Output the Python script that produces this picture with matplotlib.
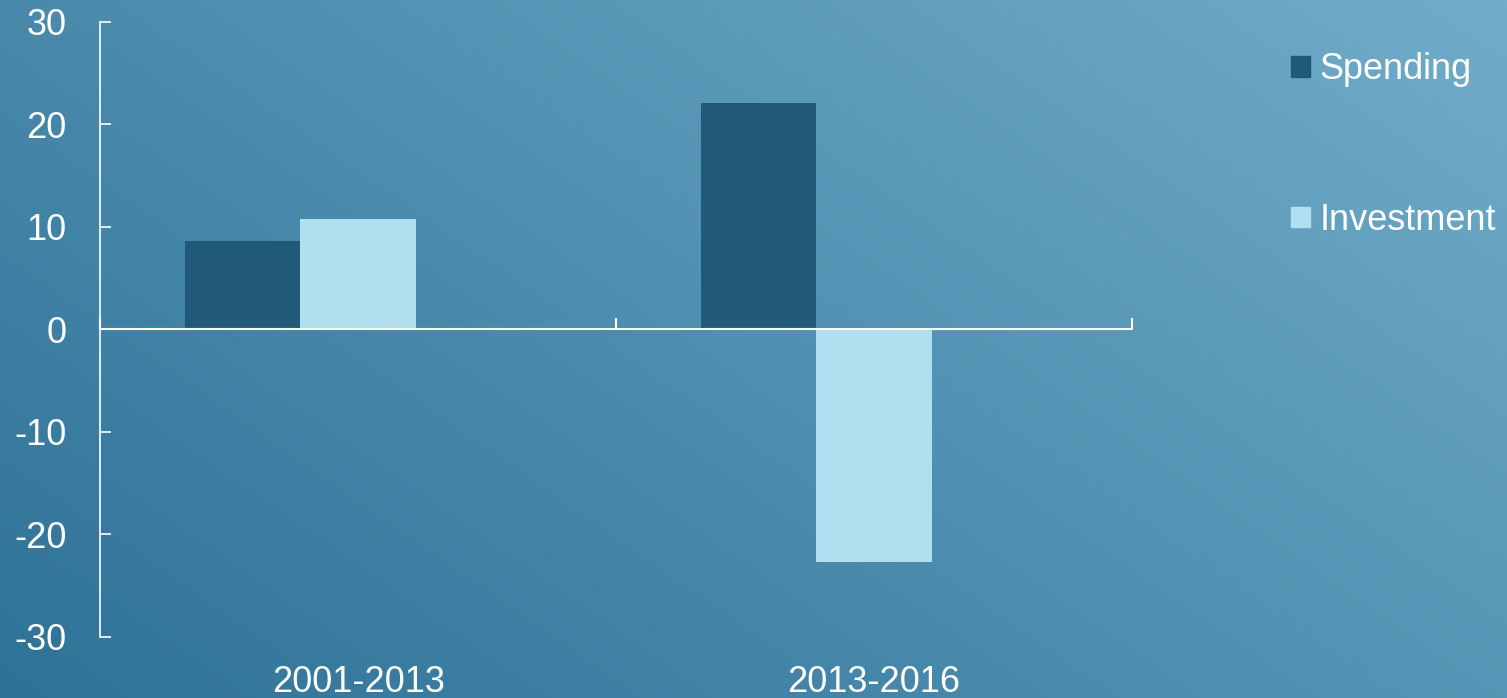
import numpy as np
import matplotlib.pyplot as plt
from matplotlib.patches import Patch

plt.rcParams['font.family'] = ['Liberation Sans', 'DejaVu Sans']

periods = ["2001-2013", "2013-2016"]
spending = [8.6, 22.1]
investment = [10.8, -22.7]
yticks = [-30, -20, -10, 0, 10, 20, 30]

c_spend = "#215a78"
c_invest = "#b0dff0"

fig = plt.figure(figsize=(15.07, 6.98), dpi=100)

# diagonal gradient background
bg = fig.add_axes([0, 0, 1, 1], zorder=0)
gx, gy = np.meshgrid(np.linspace(0, 1, 400), np.linspace(0, 1, 200))
t = (gx * 0.6 + gy * 0.4)
dark = np.array([46, 114, 151]) / 255
light = np.array([113, 173, 201]) / 255
img = dark[None, None, :] * (1 - t[..., None]) + light[None, None, :] * t[..., None]
bg.imshow(img, origin="lower", aspect="auto", extent=[0, 1, 0, 1])
bg.axis("off")

ax = fig.add_axes([0.0664, 0.0874, 0.6848, 0.8811], zorder=1)
ax.patch.set_alpha(0)

n = len(periods)
x = np.arange(n)
gap = 0.165
w = (1 - 2 * gap) / 3  # space for three series, third one empty
ax.bar(x + gap + w * 0.5, spending, w, color=c_spend, zorder=2)
ax.bar(x + gap + w * 1.5, investment, w, color=c_invest, zorder=2)

ax.set_xlim(0, n)
ax.set_ylim(-30, 30)
ax.set_yticks(yticks)
ax.set_yticklabels([str(v) for v in yticks])

for s in ["top", "right"]:
    ax.spines[s].set_visible(False)
ax.spines["left"].set_color("white")
ax.spines["left"].set_linewidth(1.2)
ax.spines["bottom"].set_position(("data", 0))
ax.spines["bottom"].set_color("white")
ax.spines["bottom"].set_linewidth(1.5)
ax.spines["bottom"].set_zorder(3)

ax.set_xticks(np.arange(n + 1))
ax.set_xticklabels([])
ax.tick_params(axis="x", direction="in", length=8, width=1.5, color="white")
ax.tick_params(axis="y", direction="in", length=8, width=1.2, color="white",
               labelsize=26, labelcolor="white", pad=24)

for i, p in enumerate(periods):
    ax.text(i + 0.5, -0.046, p, transform=ax.get_xaxis_transform(),
            ha="center", va="top", fontsize=26, color="white")

handles = [Patch(color=c_spend, label="Spending"),
           Patch(color=c_invest, label="Investment")]
fig.legend(handles=handles, loc="upper left", bbox_to_anchor=(0.857, 0.925),
           frameon=False, fontsize=26, labelcolor="white",
           handlelength=0.5, handleheight=0.5, handletextpad=0.28,
           labelspacing=3.2, borderaxespad=0, borderpad=0)

fig.savefig("out.png", dpi=100)
